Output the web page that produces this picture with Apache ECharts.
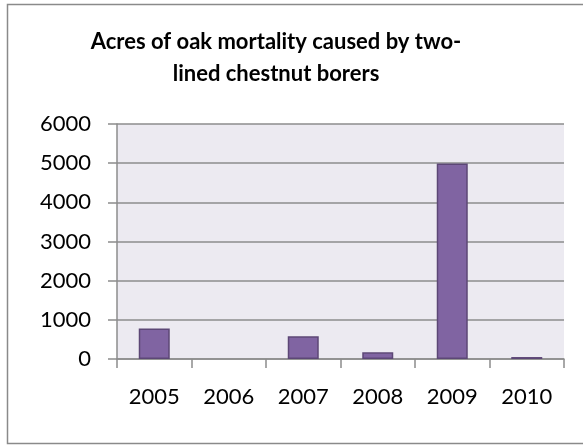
<!DOCTYPE html>
<html>
<head>
<meta charset="utf-8">
<script src="https://cdn.jsdelivr.net/npm/echarts@6/dist/echarts.min.js"></script>
<style>
html, body { margin: 0; padding: 0; background: #fff; }
#main { width: 583px; height: 445px; }
</style>
</head>
<body>
<div id="main"></div>
<script>
var years = ['2005', '2006', '2007', '2008', '2009', '2010'];
var acres = [780, 0, 580, 170, 4990, 50];

// zero-height bars are left undrawn, as in the original
var barData = acres.map(function (v) {
    return v === 0 ? { value: v, itemStyle: { borderWidth: 0 } } : v;
});

var chart = echarts.init(document.getElementById('main'));
var option = {
    animation: false,
    backgroundColor: '#fff',
    graphic: [
        {
            type: 'rect',
            shape: { x: 7.5, y: 4.5, width: 600, height: 439 },
            style: { fill: 'none', stroke: '#8a8a8a', lineWidth: 1.5 },
            silent: true
        }
    ],
    title: {
        text: 'Acres of oak mortality caused by two-\nlined chestnut borers',
        left: 271,
        textAlign: 'center',
        top: 21,
        textStyle: {
            fontFamily: 'Lato',
            fontWeight: 'bold',
            fontSize: 22,
            color: '#000',
            lineHeight: 32
        }
    },
    grid: {
        left: 117, top: 124, right: 19, bottom: 86,
        show: true,
        backgroundColor: '#ECEAF1',
        borderWidth: 0
    },
    xAxis: {
        type: 'category',
        data: years,
        axisLine: { lineStyle: { color: '#8c8c8c', width: 1.5 } },
        axisTick: { show: true, length: 9, lineStyle: { color: '#8c8c8c', width: 1.5 } },
        axisLabel: { color: '#000', fontSize: 22, fontFamily: 'Lato', margin: 27 }
    },
    yAxis: {
        type: 'value',
        min: 0, max: 6000, interval: 1000,
        axisLine: { show: true, lineStyle: { color: '#8c8c8c', width: 1.5 } },
        axisTick: { show: true, length: 9, lineStyle: { color: '#8c8c8c', width: 1.5 } },
        splitLine: { lineStyle: { color: '#8c8c8c', width: 1.5 } },
        axisLabel: {
            color: '#000', fontSize: 22, fontFamily: 'Lato', margin: 26,
            formatter: function (v) { return String(v); }
        }
    },
    series: [
        {
            type: 'bar',
            data: barData,
            barWidth: 31,
            itemStyle: {
                color: '#8064A2',
                borderColor: '#5C4776',
                borderWidth: 1.5
            }
        }
    ]
};
chart.setOption(option);
</script>
</body>
</html>
